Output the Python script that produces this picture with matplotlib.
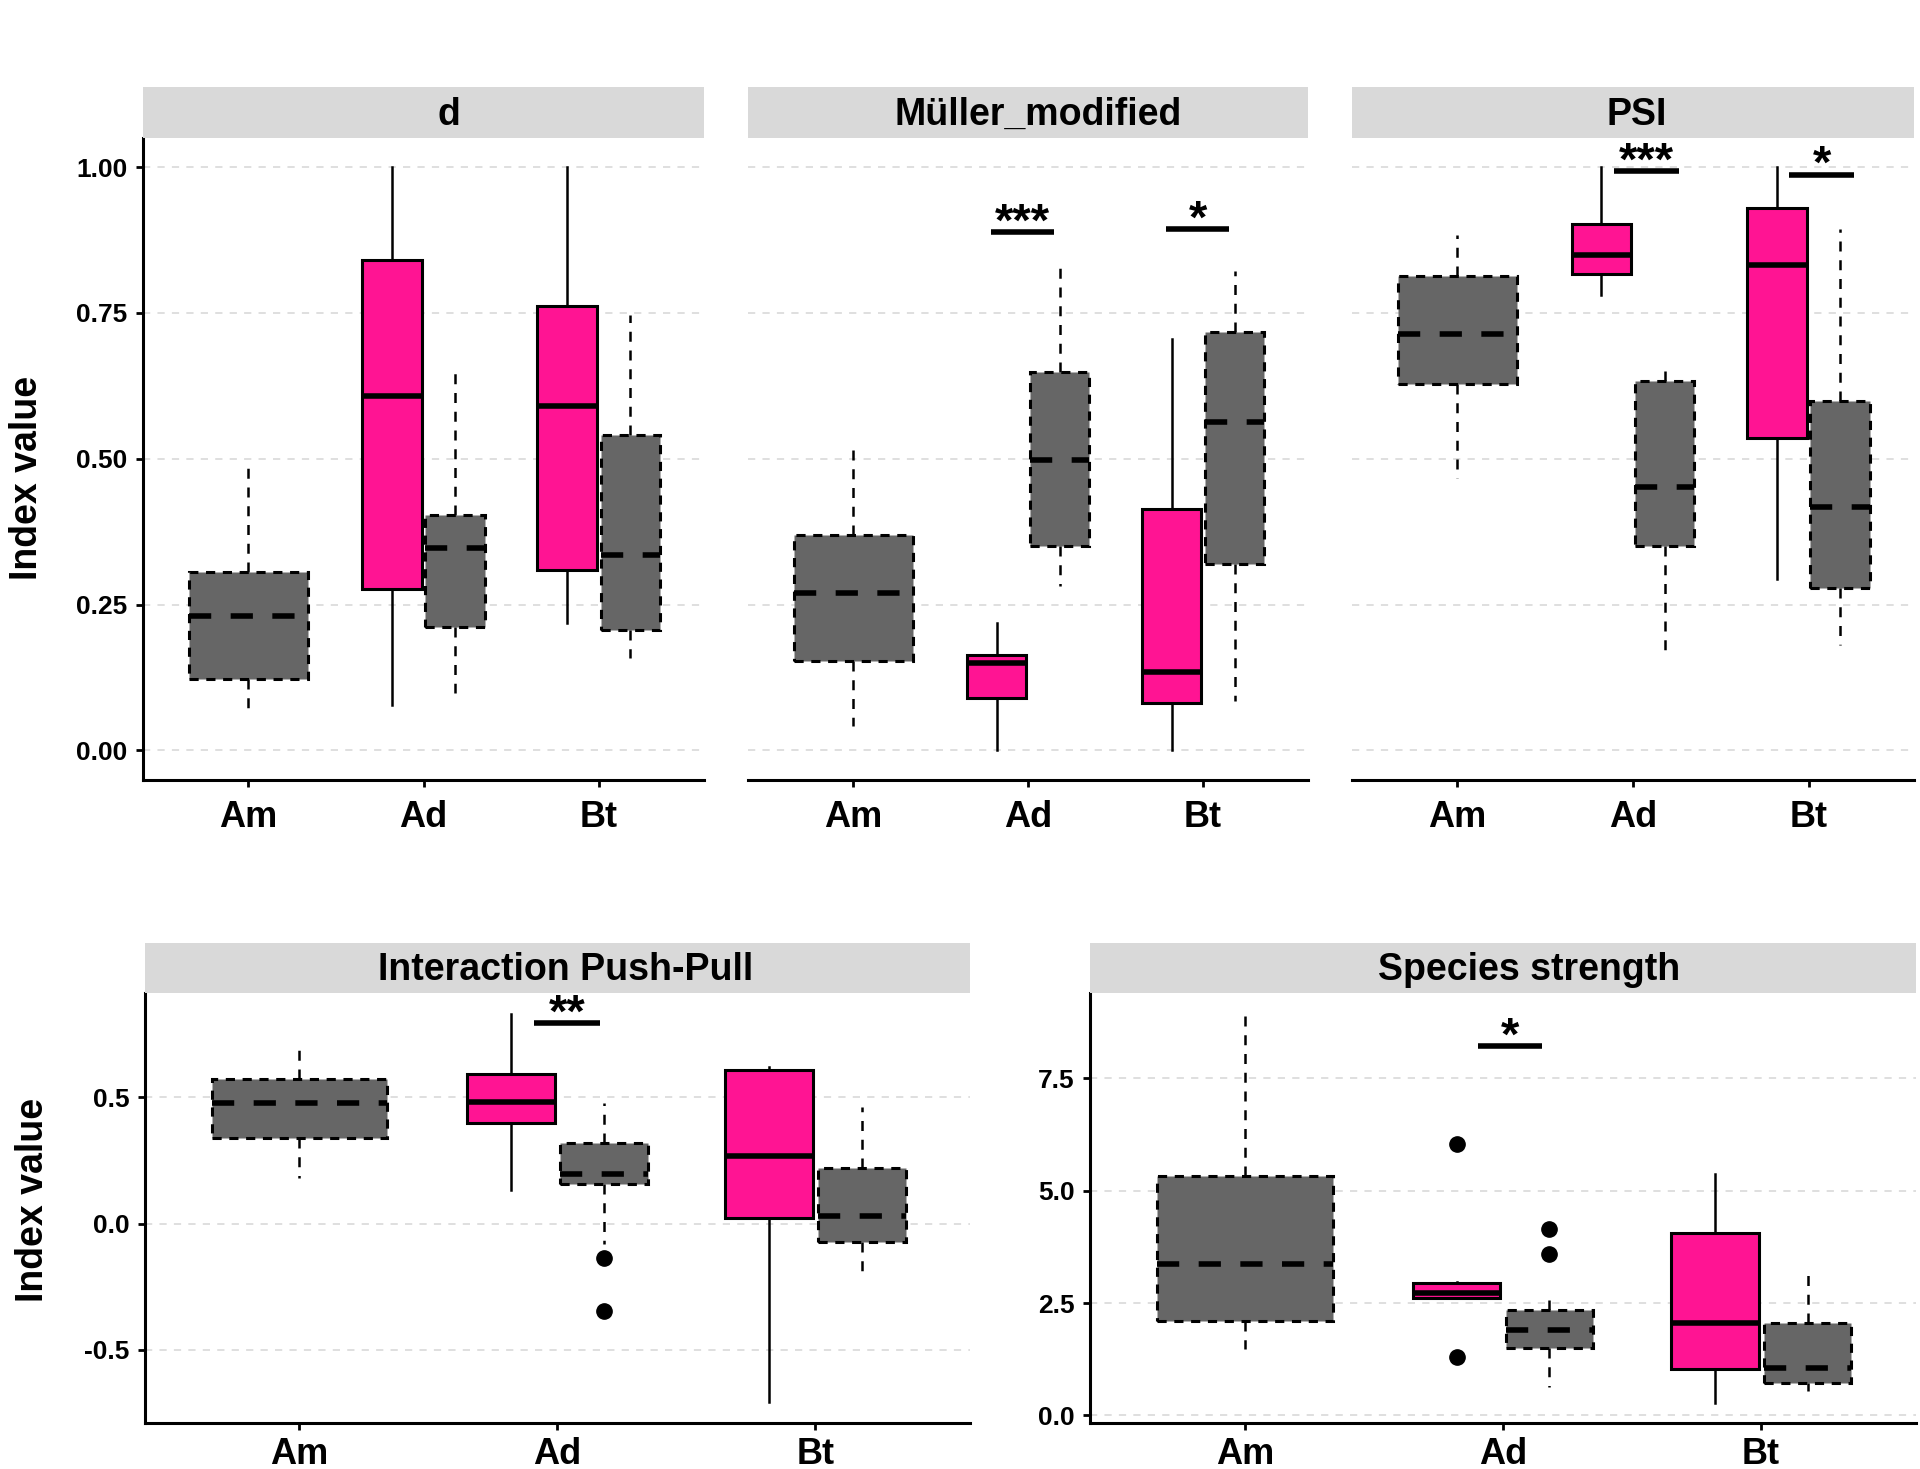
import matplotlib
matplotlib.use("Agg")
import matplotlib.pyplot as plt

plt.rcParams['font.family'] = ['Liberation Sans', 'DejaVu Sans']
plt.rcParams['font.weight'] = 'bold'

categories = ["Am", "Ad", "Bt"]
panel_titles = ["d", "Müller_modified", "PSI", "Interaction Push-Pull", "Species strength"]

# five-number summaries per category: [whisker_low, q1, median, q3, whisker_high]; None = no box
d_pink = [None, [0.078, 0.276, 0.608, 0.840, 1.000], [0.218, 0.309, 0.590, 0.762, 1.000]]
d_gray = [[0.068, 0.122, 0.231, 0.306, 0.491], [0.098, 0.212, 0.347, 0.403, 0.653], [0.158, 0.207, 0.335, 0.541, 0.747]]
mu_pink = [None, [0.000, 0.090, 0.150, 0.163, 0.218], [0.000, 0.081, 0.134, 0.414, 0.705]]
mu_gray = [[0.042, 0.154, 0.270, 0.370, 0.529], [0.282, 0.351, 0.498, 0.648, 0.834], [0.085, 0.320, 0.563, 0.718, 0.822]]
psi_pink = [None, [0.780, 0.817, 0.850, 0.902, 1.000], [0.293, 0.535, 0.833, 0.930, 1.000]]
psi_gray = [[0.467, 0.628, 0.714, 0.813, 0.883], [0.163, 0.351, 0.451, 0.633, 0.656], [0.181, 0.279, 0.417, 0.599, 0.894]]
pp_pink = [None, [0.131, 0.396, 0.481, 0.591, 0.830], [-0.707, 0.021, 0.267, 0.609, 0.618]]
pp_gray = [[0.179, 0.338, 0.476, 0.573, 0.719], [-0.081, 0.156, 0.197, 0.320, 0.476], [-0.192, -0.072, 0.028, 0.221, 0.462]]
ss_pink = [None, [2.62, 2.62, 2.72, 2.94, 2.96], [0.27, 1.04, 2.05, 4.06, 5.37]]
ss_gray = [[1.47, 2.09, 3.37, 5.32, 8.92], [0.63, 1.49, 1.91, 2.35, 2.63], [0.55, 0.73, 1.06, 2.05, 3.29]]

# outliers per category
no_out = [[], [], []]
pp_gray_out = [[], [-0.136, -0.345], []]
ss_pink_out = [[], [6.03, 1.31], []]
ss_gray_out = [[], [4.15, 3.60], []]

# significance labels and bar heights per category
mu_sig = ["", "***", "*"]
mu_sig_y = [None, 0.889, 0.894]
psi_sig = ["", "***", "*"]
psi_sig_y = [None, 0.993, 0.987]
pp_sig = ["", "**", ""]
pp_sig_y = [None, 0.793, None]
ss_sig = ["", "*", ""]
ss_sig_y = [None, 8.22, None]

# y ticks
top_ticks = [0.00, 0.25, 0.50, 0.75, 1.00]
top_ticklabels = ["0.00", "0.25", "0.50", "0.75", "1.00"]
pp_ticks = [-0.5, 0.0, 0.5]
pp_ticklabels = ["-0.5", "0.0", "0.5"]
ss_ticks = [0.0, 2.5, 5.0, 7.5]
ss_ticklabels = ["0.0", "2.5", "5.0", "7.5"]

PINK = "#FF1493"
GRAY = "#666666"
W, H = 1920, 1469
fig = plt.figure(figsize=(W / 100, H / 100), dpi=100)


def frac(x0, y0, x1, y1):
    return [x0 / W, 1 - y1 / H, (x1 - x0) / W, (y1 - y0) / H]


def make_panel(rect_px, strip_px, title, title_dx, ylim, ticks, ticklabels, show_y,
               pink, gray, pink_out, gray_out, sig, sig_y, sig_span, xpad):
    ax = fig.add_axes(frac(*rect_px))
    ax.set_xlim(0.4, 3.6)
    ax.set_ylim(*ylim)
    ax.set_yticks(ticks)
    ax.yaxis.grid(True, color="#DCDCDC", linestyle=(0, (4, 4)), linewidth=1.3)
    ax.set_axisbelow(True)
    for s in ["top", "right"]:
        ax.spines[s].set_visible(False)
    ax.spines["bottom"].set_linewidth(2.2)
    ax.spines["left"].set_linewidth(2.2)
    if show_y:
        ax.set_yticklabels(ticklabels, fontsize=19, fontweight="bold")
        ax.tick_params(axis="y", length=5, width=2, pad=6)
    else:
        ax.spines["left"].set_visible(False)
        ax.tick_params(axis="y", length=0, labelleft=False)
    ax.set_xticks([1, 2, 3])
    ax.set_xticklabels(categories, fontsize=26, fontweight="bold")
    ax.tick_params(axis="x", length=5, width=2, pad=xpad)

    for i in range(3):
        if gray[i] is not None:
            lo, q1, med, q3, hi = gray[i]
            st = [dict(whislo=lo, q1=q1, med=med, q3=q3, whishi=hi, fliers=gray_out[i])]
            if pink[i] is None:
                pos, wd = i + 1, 0.68
            else:
                pos, wd = i + 1 + 0.18, 0.34
            ax.bxp(st, positions=[pos], widths=wd, patch_artist=True, showcaps=False,
                   boxprops=dict(facecolor=GRAY, edgecolor="black", linewidth=2.2,
                                 linestyle=(0, (3, 2.5))),
                   whiskerprops=dict(color="black", linewidth=1.8, linestyle=(0, (4, 3.5))),
                   medianprops=dict(color="black", linewidth=4, linestyle=(0, (4, 3.5))),
                   flierprops=dict(marker="o", markerfacecolor="black", markeredgecolor="black",
                                   markersize=11),
                   manage_ticks=False, zorder=3)
        if pink[i] is not None:
            lo, q1, med, q3, hi = pink[i]
            st = [dict(whislo=lo, q1=q1, med=med, q3=q3, whishi=hi, fliers=pink_out[i])]
            ax.bxp(st, positions=[i + 1 - 0.18], widths=0.34, patch_artist=True, showcaps=False,
                   boxprops=dict(facecolor=PINK, edgecolor="black", linewidth=2.2),
                   whiskerprops=dict(color="black", linewidth=1.8),
                   medianprops=dict(color="black", linewidth=4),
                   flierprops=dict(marker="o", markerfacecolor="black", markeredgecolor="black",
                                   markersize=11),
                   manage_ticks=False, zorder=3)
        if sig[i]:
            x0, x1 = i + 1 + sig_span[0], i + 1 + sig_span[1]
            ax.plot([x0, x1], [sig_y[i], sig_y[i]], color="black", linewidth=4,
                    solid_capstyle="butt", zorder=4, clip_on=False)
            ax.annotate(sig[i], xy=((x0 + x1) / 2, sig_y[i]), xytext=(0, -2.5),
                        textcoords="offset points", ha="center", va="baseline",
                        fontsize=34, fontweight="bold", annotation_clip=False)

    sax = fig.add_axes(frac(*strip_px))
    sax.set_facecolor("#D9D9D9")
    for s in sax.spines.values():
        s.set_visible(False)
    sax.set_xticks([])
    sax.set_yticks([])
    sw = strip_px[2] - strip_px[0]
    sax.text(0.5 + title_dx / sw, 0.45, title, ha="center", va="center", fontsize=27,
             fontweight="bold", transform=sax.transAxes)
    return ax


top_y0, top_y1 = 138, 779.5
strip_top = (87, 138)
ax_d = make_panel((143, top_y0, 704, top_y1), (143, strip_top[0], 704, strip_top[1]),
                  panel_titles[0], 25, (-0.05, 1.05), top_ticks, top_ticklabels, True,
                  d_pink, d_gray, no_out, no_out, ["", "", ""], [None] * 3, (0, 0), 10)
ax_mu = make_panel((748, top_y0, 1308, top_y1), (748, strip_top[0], 1308, strip_top[1]),
                   panel_titles[1], 10, (-0.05, 1.05), top_ticks, top_ticklabels, False,
                   mu_pink, mu_gray, no_out, no_out, mu_sig, mu_sig_y, (-0.21, 0.15), 10)
ax_psi = make_panel((1352, top_y0, 1914, top_y1), (1352, strip_top[0], 1914, strip_top[1]),
                    panel_titles[2], 4, (-0.05, 1.05), top_ticks, top_ticklabels, False,
                    psi_pink, psi_gray, no_out, no_out, psi_sig, psi_sig_y, (-0.11, 0.26), 10)

bot_y0, bot_y1 = 993, 1423
strip_bot = (943, 993)
ax_pp = make_panel((144.5, bot_y0, 970, bot_y1), (144.5, strip_bot[0], 970, strip_bot[1]),
                   panel_titles[3], 8, (-0.789, 0.912), pp_ticks, pp_ticklabels, True,
                   pp_pink, pp_gray, no_out, pp_gray_out, pp_sig, pp_sig_y, (-0.09, 0.165), 5)
ax_ss = make_panel((1090, bot_y0, 1916, bot_y1), (1090, strip_bot[0], 1916, strip_bot[1]),
                   panel_titles[4], 26, (-0.17, 9.40), ss_ticks, ss_ticklabels, True,
                   ss_pink, ss_gray, ss_pink_out, ss_gray_out, ss_sig, ss_sig_y, (-0.095, 0.15), 5)

fig.text(27 / W, 1 - 478 / H, "Index value", rotation=90, ha="center", va="center",
         fontsize=27, fontweight="bold")
fig.text(33 / W, 1 - 1200 / H, "Index value", rotation=90, ha="center", va="center",
         fontsize=27, fontweight="bold")

fig.savefig("out.png", dpi=100, facecolor="white")
